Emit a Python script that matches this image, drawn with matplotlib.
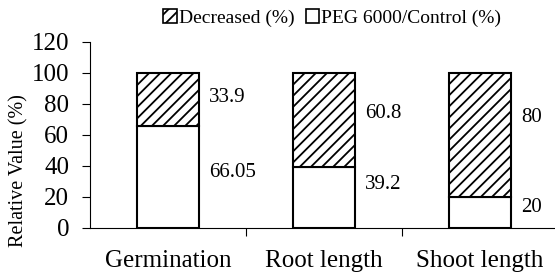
import matplotlib.pyplot as plt
from matplotlib.patches import Patch

categories = ["Germination", "Root length", "Shoot length"]
peg_control = [66.05, 39.2, 20]
decreased = [33.9, 60.8, 80]
peg_labels = ["66.05", "39.2", "20"]
dec_labels = ["33.9", "60.8", "80"]

# where the value labels sit (manual, as in the source chart)
peg_label_y = [35.5, 28, 13.5]
dec_label_y = [84, 74, 71]

plt.rcParams['font.family'] = ['Liberation Serif', 'DejaVu Serif']
plt.rcParams['hatch.color'] = '#707070'
plt.rcParams['hatch.linewidth'] = 1.3

fig = plt.figure(figsize=(5.55, 2.76), dpi=100)
ax = fig.add_axes([0.162, 0.174, 0.838, 0.674])

x = range(len(categories))
w = 0.40
ax.bar(x, peg_control, width=w, color='white', edgecolor='black', linewidth=1.5)
ax.bar(x, decreased, width=w, bottom=peg_control, color='white',
       edgecolor='black', linewidth=1.5, hatch='///')

for i in x:
    ax.text(i + w / 2 + 0.065, peg_label_y[i], peg_labels[i], fontsize=15, va='center')
    ax.text(i + w / 2 + 0.065, dec_label_y[i], dec_labels[i], fontsize=15, va='center')

ax.set_xlim(-0.5, 2.48)
ax.set_ylim(0, 120)
ax.set_yticks(range(0, 121, 20))
ax.set_xticks(list(x))
ax.set_xticklabels(categories, fontsize=18)
ax.set_xticks([0.5, 1.5], minor=True)
ax.tick_params(axis='x', which='major', length=0, pad=16)
ax.tick_params(axis='x', which='minor', length=6, direction='out', width=0.8)
ax.tick_params(axis='y', length=6, direction='out', width=0.8, labelsize=18, pad=9)
ax.set_ylabel('Relative Value (%)', fontsize=14.5)
ax.yaxis.set_label_coords(-0.133, 0.31)

for s in ['top', 'right']:
    ax.spines[s].set_visible(False)
ax.spines['left'].set_linewidth(0.8)
ax.spines['bottom'].set_linewidth(0.8)

handles = [Patch(facecolor='white', edgecolor='black', hatch='///', linewidth=1.2),
           Patch(facecolor='white', edgecolor='black', linewidth=1.2)]
fig.legend(handles, ['Decreased (%)', 'PEG 6000/Control (%)'], loc='center right',
           bbox_to_anchor=(0.935, 0.935), ncol=2, frameon=False, fontsize=14,
           handlelength=0.7, handleheight=0.7, handletextpad=0.1, columnspacing=0.6)

fig.savefig('out.png', dpi=100)
